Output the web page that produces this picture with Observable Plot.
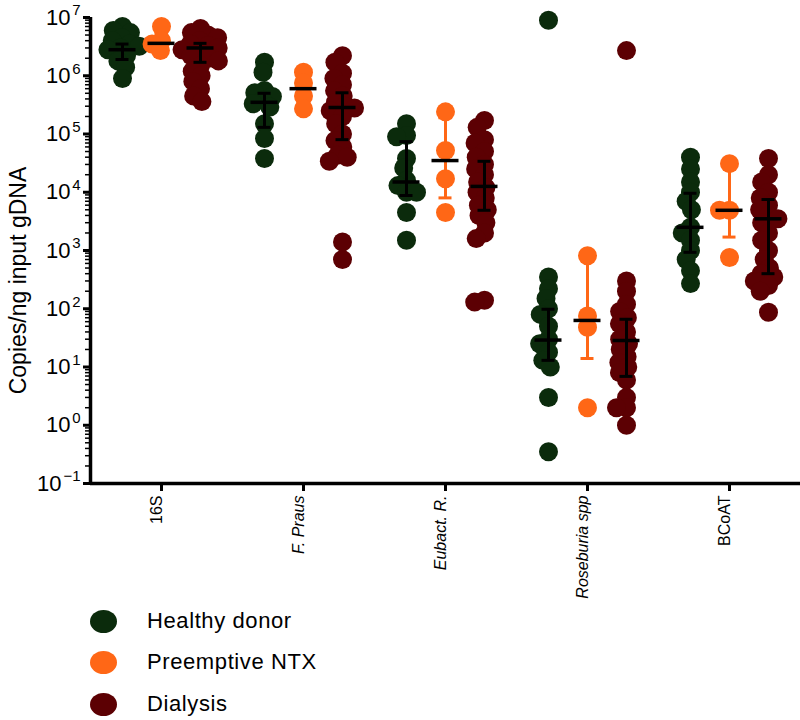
<!DOCTYPE html>
<html>
<head>
<meta charset="utf-8">
<script src="https://cdn.jsdelivr.net/npm/d3@7"></script>
<script src="https://cdn.jsdelivr.net/npm/@observablehq/plot@0.6"></script>
<style>
  body { margin: 0; background: #fff; font-family: "Liberation Sans", Arial, sans-serif; }
  #chart svg { display: block; }
  #legend { position: relative; width: 800px; height: 120px; }
  .sw { position: absolute; left: 90px; width: 27px; height: 23px; border-radius: 50%; }
  .lab { position: absolute; left: 147px; font-size: 22px; line-height: 26px; letter-spacing: 0.6px; color: #000; }
</style>
</head>
<body>
<div id="chart"></div>
<div id="legend"></div>
<script>
// ---- categories, groups, colours ----
const categories = ["16S", "F. Praus", "Eubact. R.", "Roseburia spp", "BCoAT"];
const italicCategories = ["F. Praus", "Eubact. R.", "Roseburia spp"];
const plainCategories = ["16S", "BCoAT"];
const groups = ["Healthy donor", "Preemptive NTX", "Dialysis"];
const colors = ["#0b2b0c", "#ff6716", "#5c0003"];

// ---- individual values (copies/ng input gDNA), one list per category ----
const healthyDonor = [
  [7e6, 6e6, 5.5e6, 4.5e6, 4e6, 3.5e6, 3.2e6, 3e6, 2.8e6, 2.2e6, 1.8e6, 1.4e6, 9e5],
  [1.7e6, 1.15e6, 5.6e5, 5.1e5, 4.4e5, 3.8e5, 3.3e5, 2.9e5, 1.5e5, 8.4e4, 3.8e4],
  [1.5e5, 9.4e4, 9e4, 3.8e4, 2.6e4, 1.6e4, 1.3e4, 1e4, 1e4, 4.5e3, 1.5e3],
  [9e6, 350, 220, 150, 100, 80, 50, 30, 25, 18, 13, 10, 3, 0.35],
  [4e4, 2.5e4, 1.5e4, 1e4, 7e3, 5e3, 2.5e3, 2e3, 1.5e3, 1e3, 700, 450, 270]
];
const preemptiveNTX = [
  [7e6, 4e6, 3.5e6, 2.7e6],
  [1.15e6, 7.5e5, 4.5e5, 2.7e5],
  [2.4e5, 5.2e4, 1.7e4, 4.5e3],
  [810, 75, 48, 2],
  [3.1e4, 4.9e3, 4.9e3, 760]
];
const dialysis = [
  [6.5e6, 5.5e6, 5e6, 4.5e6, 4e6, 3.5e6, 3.3e6, 3e6, 2.8e6, 2.5e6, 2.2e6, 2e6, 1.8e6, 1.5e6, 1.2e6, 1e6, 8e5, 6e5, 4.5e5, 3.6e5],
  [2.2e6, 1.7e6, 1.1e6, 9e5, 7e5, 5.5e5, 4.5e5, 3.5e5, 3e5, 2.8e5, 2.5e5, 2e5, 1.5e5, 1e5, 7.7e4, 6e4, 4.3e4, 4e4, 3.4e4, 1.4e3, 700],
  [1.7e5, 1.3e5, 8e4, 7e4, 5e4, 4e4, 3e4, 2.5e4, 2e4, 1.5e4, 1.2e4, 1e4, 8e3, 6e3, 5e3, 4e3, 3e3, 2e3, 1.6e3, 140, 130],
  [2.7e6, 300, 200, 120, 90, 70, 55, 40, 30, 25, 20, 15, 12, 10, 8, 6, 3, 2, 2, 1],
  [3.8e4, 2e4, 1.5e4, 1e4, 8e3, 6e3, 5e3, 4e3, 3.5e3, 3e3, 2e3, 1.5e3, 1e3, 700, 500, 400, 350, 300, 250, 200, 87]
];

// ---- median and interquartile range, per category ----
const healthyMedian = [2.8e6, 3.5e5, 1.5e4, 29, 2.5e3];
const healthyLow    = [1.9e6, 1.3e5, 8.8e3, 13, 930];
const healthyHigh   = [3.5e6, 5e5, 7.4e4, 98, 9.6e3];
const preemptMedian = [3.6e6, 6e5, 3.5e4, 63, 4.9e3];
const preemptLow    = [3.3e6, 3.5e5, 8e3, 14, 1.7e3];
const preemptHigh   = [5.5e6, 1e6, 1.9e5, 750, 3e4];
const dialysisMedian = [3e6, 2.85e5, 1.26e4, 28.5, 3.5e3];
const dialysisLow    = [1.7e6, 8e4, 4.9e3, 6.9, 400];
const dialysisHigh   = [3.6e6, 5.1e5, 3.4e4, 66, 7.5e3];

// ---- y-axis ticks ----
const decades = [0.1, 1, 10, 100, 1e3, 1e4, 1e5, 1e6, 1e7];

// ---- build tables ----
const series = [healthyDonor, preemptiveNTX, dialysis];
const dots = [];
series.forEach((arr, g) => arr.forEach((vals, c) => {
  vals.slice().sort((a, b) => b - a).forEach(v => dots.push({cat: categories[c], g, value: v}));
}));
const statSets = [
  [healthyMedian, healthyLow, healthyHigh],
  [preemptMedian, preemptLow, preemptHigh],
  [dialysisMedian, dialysisLow, dialysisHigh]
];
const stats = [];
statSets.forEach(([m, lo, hi], g) => categories.forEach((cat, c) => stats.push({cat, g, med: m[c], lo: lo[c], hi: hi[c]})));

const minor = [];
for (let e = -1; e < 7; e++) for (let k = 2; k <= 9; k++) minor.push(k * Math.pow(10, e));

const expOf = v => String(Math.round(Math.log10(v))).replace("-", "\u2212");

// layout constants (pixels within each category band)
const offset = [-39, 0, 39];
const half = 71;
const first = () => categories[0];

const blackStats = stats.filter(d => d.g !== 1);
const orangeStats = stats.filter(d => d.g === 1);

const dotMark = g => Plot.dot(dots.filter(d => d.g === g), Plot.dodgeX({anchor: "middle", padding: -9}, {
  fx: "cat", y: "value", r: 9.5, fill: colors[g], dx: offset[g]
}));

const catLabel = (cats, style) => Plot.text(cats, {
  fx: d => d, text: d => d, frameAnchor: "bottom", rotate: -90, textAnchor: "end",
  dy: 12, fontSize: 16, fontStyle: style
});

const chart = Plot.plot({
  width: 800,
  height: 600,
  marginTop: 17,
  marginBottom: 117,
  marginLeft: 90,
  marginRight: 0,
  style: {fontFamily: "'Liberation Sans', Arial, sans-serif", background: "#fff"},
  fx: {domain: categories, padding: 0},
  x: {domain: [-half, half], axis: null},
  y: {type: "log", domain: [0.1, 1e7]},
  marks: [
    // orange whiskers
    Plot.ruleX(orangeStats, {fx: "cat", x: d => offset[d.g], y1: "lo", y2: "hi", stroke: colors[1], strokeWidth: 3}),
    Plot.ruleY(orangeStats, {fx: "cat", y: "lo", x1: d => offset[d.g] - 6.5, x2: d => offset[d.g] + 6.5, stroke: colors[1], strokeWidth: 3}),
    Plot.ruleY(orangeStats, {fx: "cat", y: "hi", x1: d => offset[d.g] - 6.5, x2: d => offset[d.g] + 6.5, stroke: colors[1], strokeWidth: 3}),
    // dots
    dotMark(0),
    dotMark(1),
    dotMark(2),
    // black error bars
    Plot.ruleX(blackStats, {fx: "cat", x: d => offset[d.g], y1: "lo", y2: "hi", stroke: "#000", strokeWidth: 3}),
    Plot.ruleY(blackStats, {fx: "cat", y: "lo", x1: d => offset[d.g] - 6.5, x2: d => offset[d.g] + 6.5, stroke: "#000", strokeWidth: 3}),
    Plot.ruleY(blackStats, {fx: "cat", y: "hi", x1: d => offset[d.g] - 6.5, x2: d => offset[d.g] + 6.5, stroke: "#000", strokeWidth: 3}),
    Plot.ruleY(stats, {fx: "cat", y: "med", x1: d => offset[d.g] - 13.5, x2: d => offset[d.g] + 13.5, stroke: "#000", strokeWidth: 3.5}),
    // axes lines
    Plot.ruleY([0.1], {stroke: "#000", strokeWidth: 3.5}),
    Plot.ruleX([0], {fx: first, x: () => -half, y1: () => 0.1, y2: () => 1e7, stroke: "#000", strokeWidth: 3.5}),
    // y ticks
    Plot.axisY(decades, {tickSize: 7, tickFormat: () => "", strokeWidth: 3, label: null}),
    Plot.axisY(minor, {tickSize: 5, tickFormat: () => "", strokeWidth: 1.5, label: null}),
    // y tick labels: "10" + superscript exponent
    Plot.text(decades.filter(d => d >= 1), {fx: first, y: d => d, frameAnchor: "left", text: () => "10", textAnchor: "end", dx: -20, fontSize: 22}),
    Plot.text(decades.filter(d => d < 1), {fx: first, y: d => d, frameAnchor: "left", text: () => "10", textAnchor: "end", dx: -29, fontSize: 22}),
    Plot.text(decades, {fx: first, y: d => d, frameAnchor: "left", text: expOf, textAnchor: "end", dx: -10, dy: -7, fontSize: 15}),
    // x ticks and labels
    Plot.axisFx({anchor: "bottom", tickSize: 8, tickFormat: () => "", strokeWidth: 3, label: null}),
    catLabel(plainCategories, "normal"),
    catLabel(italicCategories, "italic"),
    // y title
    Plot.text(["Copies/ng input gDNA"], {fx: first, frameAnchor: "left", rotate: -90, dx: -72, dy: 30, fontSize: 23, textAnchor: "middle"})
  ]
});
document.getElementById("chart").appendChild(chart);

// ---- legend ----
const legend = document.getElementById("legend");
const rowCenters = [21, 62, 104];
groups.forEach((name, i) => {
  const sw = document.createElement("div");
  sw.className = "sw";
  sw.style.top = (rowCenters[i] - 11.5) + "px";
  sw.style.background = colors[i];
  legend.appendChild(sw);
  const lab = document.createElement("div");
  lab.className = "lab";
  lab.style.top = (rowCenters[i] - 13) + "px";
  lab.textContent = name;
  legend.appendChild(lab);
});
</script>
</body>
</html>
